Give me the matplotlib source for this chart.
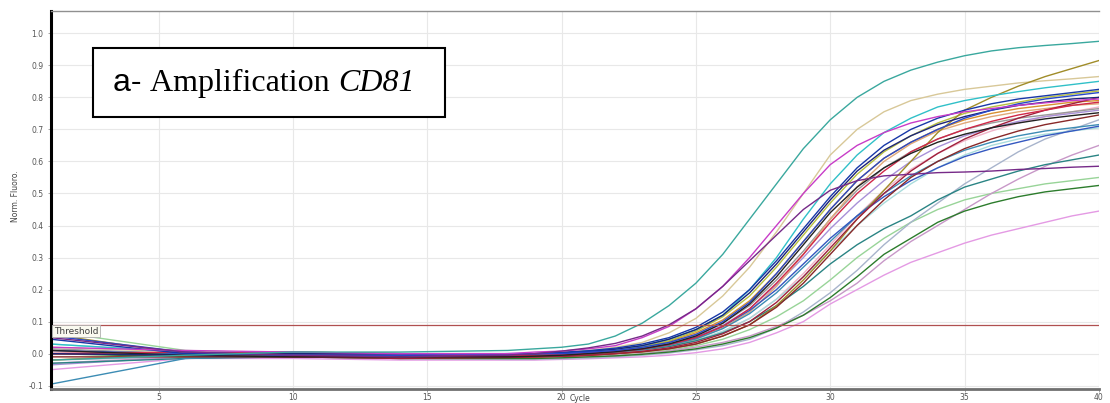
import matplotlib
matplotlib.use("Agg")
import matplotlib.pyplot as plt
from matplotlib.patches import Rectangle

# cycles at which the curves are sampled (flat baseline sampled sparsely)
cycles = [1, 6, 10, 14, 18] + list(range(19, 41))

threshold = 0.088

x_ticks = [5, 10, 15, 20, 25, 30, 35, 40]
y_ticks = [-0.1, 0.0, 0.1, 0.2, 0.3, 0.4, 0.5, 0.6, 0.7, 0.8, 0.9, 1.0]

# one entry per well: values at `cycles`
teal = [-0.02, -0.005, 0.005, 0.005, 0.01,
        0.015, 0.02, 0.03, 0.055, 0.095, 0.15, 0.22, 0.31, 0.42, 0.53, 0.64,
        0.73, 0.80, 0.85, 0.885, 0.91, 0.93, 0.945, 0.955, 0.962, 0.968, 0.975]
tan = [0.02, 0.005, 0.0, -0.005, -0.005,
       0.0, 0.005, 0.01, 0.02, 0.035, 0.065, 0.11, 0.18, 0.27, 0.38, 0.50,
       0.62, 0.70, 0.755, 0.79, 0.81, 0.825, 0.835, 0.845, 0.852, 0.858, 0.865]
olive = [0.06, 0.0, -0.01, -0.01, -0.01,
         -0.01, -0.008, -0.005, 0.0, 0.005, 0.015, 0.03, 0.055, 0.09, 0.15, 0.23,
         0.32, 0.42, 0.51, 0.60, 0.69, 0.76, 0.80, 0.835, 0.865, 0.89, 0.915]
cyan = [0.03, 0.005, 0.0, 0.0, 0.0,
        0.0, 0.003, 0.008, 0.015, 0.025, 0.045, 0.075, 0.12, 0.20, 0.30, 0.42,
        0.53, 0.62, 0.69, 0.735, 0.77, 0.79, 0.805, 0.818, 0.83, 0.84, 0.85]
yellow_green = [0.0, 0.0, 0.005, 0.0, -0.005,
                -0.005, 0.0, 0.005, 0.012, 0.022, 0.04, 0.07, 0.115, 0.18, 0.27, 0.37,
                0.47, 0.56, 0.63, 0.68, 0.72, 0.75, 0.77, 0.785, 0.80, 0.81, 0.82]
blue = [0.055, 0.005, -0.005, -0.005, 0.0,
        0.0, 0.0, 0.005, 0.01, 0.02, 0.035, 0.06, 0.10, 0.16, 0.25, 0.35,
        0.45, 0.54, 0.61, 0.66, 0.70, 0.735, 0.76, 0.78, 0.795, 0.805, 0.815]
magenta = [0.02, 0.01, 0.005, 0.0, 0.0,
           0.005, 0.008, 0.015, 0.025, 0.05, 0.085, 0.14, 0.21, 0.30, 0.40, 0.50,
           0.59, 0.65, 0.69, 0.72, 0.74, 0.755, 0.765, 0.775, 0.783, 0.79, 0.795]
purple = [0.05, 0.005, -0.005, -0.01, -0.005,
          0.0, 0.008, 0.018, 0.032, 0.055, 0.09, 0.14, 0.21, 0.29, 0.37, 0.45,
          0.51, 0.54, 0.555, 0.56, 0.565, 0.567, 0.57, 0.575, 0.578, 0.582, 0.585]
black = [0.01, -0.005, -0.01, -0.01, -0.01,
         -0.008, -0.005, 0.0, 0.006, 0.015, 0.03, 0.055, 0.095, 0.155, 0.24, 0.34,
         0.44, 0.52, 0.58, 0.625, 0.66, 0.685, 0.705, 0.72, 0.733, 0.743, 0.752]
maroon = [0.0, -0.005, -0.01, -0.015, -0.012,
          -0.01, -0.008, -0.005, 0.0, 0.007, 0.018, 0.035, 0.062, 0.10, 0.16, 0.24,
          0.33, 0.42, 0.50, 0.57, 0.625, 0.67, 0.705, 0.735, 0.76, 0.78, 0.80]
brown_red = [-0.01, -0.01, -0.01, -0.01, -0.01,
             -0.01, -0.008, -0.005, 0.0, 0.006, 0.015, 0.03, 0.055, 0.09, 0.145, 0.22,
             0.31, 0.40, 0.48, 0.55, 0.60, 0.64, 0.67, 0.695, 0.715, 0.73, 0.745]
blue2 = [0.01, 0.0, 0.005, 0.0, -0.005,
         -0.005, -0.002, 0.002, 0.008, 0.016, 0.03, 0.05, 0.085, 0.135, 0.20, 0.28,
         0.36, 0.43, 0.49, 0.54, 0.58, 0.615, 0.64, 0.66, 0.68, 0.695, 0.71]
mauve = [-0.03, -0.01, -0.01, -0.015, -0.015,
         -0.015, -0.013, -0.01, -0.006, 0.0, 0.008, 0.02, 0.035, 0.055, 0.085, 0.12,
         0.165, 0.22, 0.29, 0.35, 0.40, 0.45, 0.50, 0.545, 0.585, 0.62, 0.65]
dark_teal = [-0.03, -0.015, -0.01, -0.01, -0.01,
             -0.008, -0.005, 0.0, 0.005, 0.012, 0.022, 0.04, 0.065, 0.10, 0.15, 0.21,
             0.28, 0.34, 0.39, 0.43, 0.48, 0.52, 0.545, 0.57, 0.59, 0.605, 0.62]
light_green = [0.07, 0.01, 0.0, -0.01, -0.015,
               -0.015, -0.013, -0.01, -0.006, 0.0, 0.01, 0.025, 0.045, 0.075, 0.115, 0.165,
               0.23, 0.30, 0.36, 0.41, 0.45, 0.48, 0.50, 0.515, 0.53, 0.54, 0.55]
dark_green = [0.0, -0.01, -0.01, -0.015, -0.015,
              -0.015, -0.013, -0.01, -0.007, -0.002, 0.005, 0.015, 0.03, 0.05, 0.08, 0.12,
              0.175, 0.24, 0.31, 0.36, 0.41, 0.445, 0.47, 0.49, 0.505, 0.515, 0.525]
pink = [-0.05, -0.015, -0.015, -0.02, -0.02,
        -0.02, -0.018, -0.016, -0.013, -0.01, -0.005, 0.003, 0.015, 0.035, 0.065, 0.10,
        0.155, 0.20, 0.245, 0.285, 0.315, 0.345, 0.37, 0.39, 0.41, 0.43, 0.445]
grey_blue = [-0.02, -0.01, -0.01, -0.015, -0.018,
             -0.018, -0.016, -0.014, -0.01, -0.005, 0.002, 0.012, 0.025, 0.045, 0.08, 0.13,
             0.19, 0.26, 0.34, 0.41, 0.47, 0.53, 0.58, 0.63, 0.67, 0.70, 0.73]
light_cyan = [0.03, 0.005, 0.0, -0.005, -0.005,
              -0.005, -0.003, 0.0, 0.005, 0.012, 0.024, 0.042, 0.07, 0.11, 0.17, 0.24,
              0.32, 0.40, 0.47, 0.53, 0.58, 0.62, 0.65, 0.67, 0.685, 0.695, 0.705]
salmon = [0.01, 0.0, -0.005, -0.01, -0.01,
          -0.01, -0.006, -0.002, 0.004, 0.012, 0.025, 0.045, 0.08, 0.13, 0.21, 0.31,
          0.42, 0.52, 0.60, 0.655, 0.695, 0.72, 0.74, 0.755, 0.765, 0.775, 0.78]
navy = [0.0, -0.005, 0.0, 0.0, 0.0,
        0.0, 0.003, 0.007, 0.014, 0.025, 0.045, 0.075, 0.12, 0.19, 0.28, 0.38,
        0.48, 0.57, 0.635, 0.68, 0.715, 0.74, 0.76, 0.775, 0.785, 0.795, 0.80]
red = [0.0, 0.005, 0.0, -0.005, -0.005,
       -0.005, -0.003, 0.0, 0.006, 0.014, 0.028, 0.05, 0.085, 0.14, 0.22, 0.31,
       0.41, 0.50, 0.57, 0.63, 0.67, 0.70, 0.725, 0.745, 0.76, 0.775, 0.785]
lavender = [-0.035, -0.01, -0.005, -0.01, -0.01,
            -0.008, -0.005, 0.0, 0.006, 0.015, 0.03, 0.052, 0.088, 0.14, 0.215, 0.30,
            0.39, 0.47, 0.54, 0.60, 0.645, 0.68, 0.705, 0.725, 0.74, 0.75, 0.76]
grey = [0.015, 0.0, 0.0, -0.005, -0.005,
        -0.005, -0.002, 0.002, 0.008, 0.017, 0.033, 0.058, 0.095, 0.15, 0.23, 0.32,
        0.42, 0.51, 0.58, 0.63, 0.67, 0.70, 0.72, 0.735, 0.745, 0.755, 0.765]
steel_teal = [-0.095, -0.015, -0.005, -0.005, -0.008,
              -0.008, -0.005, -0.001, 0.005, 0.013, 0.026, 0.046, 0.078, 0.125, 0.19, 0.27,
              0.35, 0.43, 0.50, 0.555, 0.60, 0.635, 0.66, 0.68, 0.695, 0.705, 0.715]
royal_blue = [0.045, 0.0, -0.005, -0.005, 0.0,
              0.0, 0.004, 0.009, 0.017, 0.03, 0.05, 0.082, 0.13, 0.20, 0.29, 0.39,
              0.49, 0.58, 0.65, 0.70, 0.735, 0.76, 0.78, 0.795, 0.805, 0.815, 0.825]
light_pink = [0.005, 0.0, -0.005, -0.01, -0.01,
              -0.01, -0.007, -0.003, 0.003, 0.01, 0.022, 0.04, 0.068, 0.11, 0.17, 0.25,
              0.34, 0.43, 0.51, 0.575, 0.625, 0.665, 0.695, 0.72, 0.74, 0.755, 0.77]
orange = [-0.02, 0.0, 0.005, 0.0, -0.005,
          -0.005, -0.002, 0.003, 0.01, 0.02, 0.038, 0.065, 0.105, 0.165, 0.25, 0.35,
          0.45, 0.54, 0.61, 0.66, 0.70, 0.73, 0.75, 0.765, 0.775, 0.785, 0.79]

wells = [
    (light_green, "#98d498"), (pink, "#e49ae4"), (light_pink, "#f0b4c8"),
    (grey_blue, "#a8b4cc"), (light_cyan, "#a8dcdc"), (lavender, "#a890d8"),
    (grey, "#9a9a9a"), (tan, "#d8c898"), (salmon, "#e0a878"), (orange, "#d89030"),
    (mauve, "#c898c8"), (dark_green, "#2c7c2c"), (dark_teal, "#2a8484"),
    (steel_teal, "#3c8cb4"), (yellow_green, "#b8c040"), (olive, "#a08c28"),
    (cyan, "#30c0c8"), (blue2, "#3458c0"), (brown_red, "#882828"),
    (maroon, "#a0203c"), (red, "#d02848"), (black, "#222222"),
    (navy, "#1c2478"), (royal_blue, "#1838a8"), (blue, "#2848c8"),
    (magenta, "#c83cc8"), (purple, "#762a88"), (teal, "#3aa89e"),
]

fig = plt.figure(figsize=(11.1, 4.03), dpi=100)
ax = fig.add_axes([0.046, 0.035, 0.944, 0.938])

for values, color in wells:
    ax.plot(cycles, values, color=color, linewidth=1.0)

ax.axhline(threshold, color="#b05050", linewidth=0.9)
ax.text(1.1, threshold - 0.004, "Threshold", fontsize=6.5, color="#404040",
        va="top", ha="left",
        bbox=dict(boxstyle="square,pad=0.15", facecolor="#fafaf0",
                  edgecolor="#b0b0b0", linewidth=0.6))

ax.set_xlim(1, 40)
ax.set_ylim(-0.11, 1.07)
ax.set_xticks(x_ticks)
ax.set_yticks(y_ticks)
ax.set_yticklabels([f"{v:.1f}" for v in y_ticks])
ax.tick_params(labelsize=5.5, labelcolor="#555555", color="#999999",
               length=2, width=0.6)
ax.tick_params(axis="x", pad=0.8)
ax.grid(True, color="#e8e8e8", linewidth=0.8)
ax.set_axisbelow(True)

ax.spines["left"].set_color("black")
ax.spines["left"].set_linewidth(2.2)
ax.spines["bottom"].set_color("#707070")
ax.spines["bottom"].set_linewidth(2.0)
ax.spines["top"].set_color("#909090")
ax.spines["top"].set_linewidth(1.0)
ax.spines["right"].set_visible(False)

fig.text(0.014, 0.514, "Norm. Fluoro.", rotation=90, fontsize=5.5,
         color="#444444", ha="center", va="center", family="Liberation Sans Narrow")
fig.text(580 / 1110, 0.0, "Cycle", fontsize=5.5, color="#444444",
         ha="center", va="bottom")

# label box in the top-left corner
fig.patches.append(Rectangle((93 / 1110, 1 - 117 / 403), 352 / 1110, 69 / 403,
                             transform=fig.transFigure, facecolor="white",
                             edgecolor="black", linewidth=1.5, zorder=5))
renderer = fig.canvas.get_renderer()
x_px = 113
base_y = 1 - 91 / 403
for txt, fam, style in [("a- ", "Liberation Sans", "normal"),
                        ("Amplification ", "Liberation Serif", "normal"),
                        ("CD81", "Liberation Serif", "italic")]:
    t = fig.text(x_px / 1110, base_y, txt, fontsize=23, family=fam,
                 style=style, va="baseline", ha="left", zorder=6)
    x_px = t.get_window_extent(renderer).x1

fig.savefig("out.png", dpi=100)
